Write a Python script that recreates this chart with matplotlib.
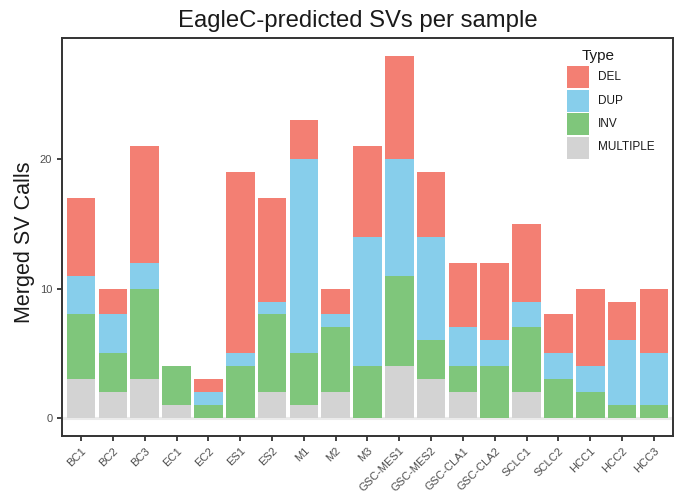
import numpy as np
import matplotlib
matplotlib.use('Agg')
from matplotlib import pyplot as plt
from matplotlib.patches import Rectangle

plt.rcParams['font.family'] = ['Liberation Sans', 'DejaVu Sans']

samples = ['BC1', 'BC2', 'BC3', 'EC1', 'EC2', 'ES1', 'ES2', 'M1', 'M2', 'M3',
           'GSC-MES1', 'GSC-MES2', 'GSC-CLA1', 'GSC-CLA2', 'SCLC1', 'SCLC2',
           'HCC1', 'HCC2', 'HCC3']

# counts per type, stacked bottom to top: MULTIPLE, INV, DUP, DEL
multiple = [3, 2, 3, 1, 0, 0, 2, 1, 2, 0, 4, 3, 2, 0, 2, 0, 0, 0, 0]
inv      = [5, 3, 7, 3, 1, 4, 6, 4, 5, 4, 7, 3, 2, 4, 5, 3, 2, 1, 1]
dup      = [3, 3, 2, 0, 1, 1, 1, 15, 1, 10, 9, 8, 3, 2, 2, 2, 2, 5, 4]
dele     = [6, 2, 9, 0, 1, 14, 8, 3, 2, 7, 8, 5, 5, 6, 6, 3, 6, 3, 5]

types = ['DEL', 'DUP', 'INV', 'MULTIPLE']
colors = {'DEL': '#F37F73', 'DUP': '#87CEEB', 'INV': '#7FC67B', 'MULTIPLE': '#D3D3D3'}

W, H = 681, 496
fig = plt.figure(figsize=(W / 100, H / 100), dpi=100)
ax = fig.add_axes([62 / W, 1 - 436 / H, (673 - 62) / W, (436 - 37.7) / H])

x = np.arange(1, len(samples) + 1)
ax.axhline(0, color='#EBEBEB', lw=2.2, zorder=1)

bottom = np.zeros(len(samples))
for name, vals in [('MULTIPLE', multiple), ('INV', inv), ('DUP', dup), ('DEL', dele)]:
    vals = np.array(vals, dtype=float)
    ax.bar(x, vals, width=0.9, bottom=bottom, color=colors[name], zorder=2,
           linewidth=0)
    bottom += vals

ax.set_xlim(0.4, len(samples) + 0.6)
ax.set_ylim(-1.4, 29.4)
ax.set_yticks([0, 10, 20])
ax.set_xticks(x)
ax.set_xticklabels(samples, rotation=45, ha='right', rotation_mode='anchor')
ax.tick_params(axis='both', colors='#333333', length=3.5, width=1.3,
               labelsize=8, labelcolor='#4D4D4D')
for s in ax.spines.values():
    s.set_color('#333333')
    s.set_linewidth(1.4)

fig.text(24.5 / W, 1 - 242.5 / H, 'Merged SV Calls', rotation=90,
         ha='center', va='center', fontsize=15.5, color='#1A1A1A')
fig.text(358 / W, 1 - 21.5 / H, 'EagleC-predicted SVs per sample',
         ha='center', va='center', fontsize=17.2, color='#1A1A1A')

# legend
fig.text(598 / W, 1 - 56 / H, 'Type', ha='center', va='center', fontsize=11,
         color='#1A1A1A')
for i, name in enumerate(types):
    y0 = 66 + i * 23.5
    fig.add_artist(Rectangle((567 / W, 1 - (y0 + 22) / H), 22 / W, 22 / H,
                             transform=fig.transFigure, color=colors[name], lw=0))
    fig.text(598 / W, 1 - (y0 + 11) / H, name, ha='left', va='center',
             fontsize=8.5, color='#1A1A1A')

fig.savefig('out.png', dpi=100)
